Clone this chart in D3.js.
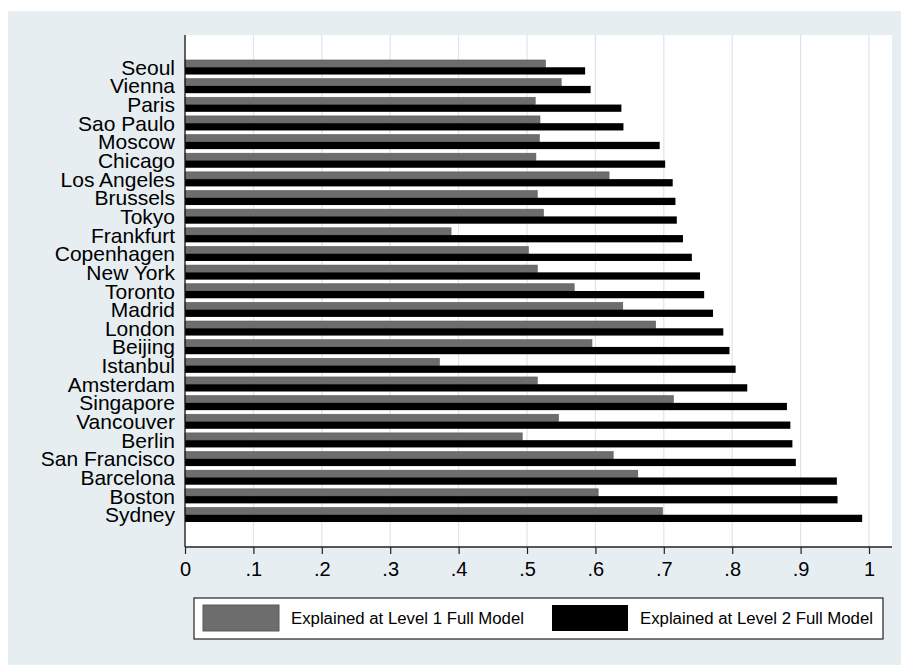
<!DOCTYPE html>
<html>
<head>
<meta charset="utf-8">
<script src="https://cdn.jsdelivr.net/npm/d3@7"></script>
<style>
  body { margin: 0; background: #fff; }
  svg { display: block; font-family: "Liberation Sans", Arial, Helvetica, sans-serif; }
  .city { font-size: 21px; fill: #000; }
  .tick text { font-size: 20px; fill: #000; font-family: "Liberation Sans", Arial, sans-serif; }
  .legend-text { font-size: 16px; fill: #000; }
</style>
</head>
<body>
<svg width="901" height="665"></svg>
<script>
// city order top to bottom
const cities = ["Seoul", "Vienna", "Paris", "Sao Paulo", "Moscow", "Chicago", "Los Angeles",
  "Brussels", "Tokyo", "Frankfurt", "Copenhagen", "New York", "Toronto", "Madrid", "London",
  "Beijing", "Istanbul", "Amsterdam", "Singapore", "Vancouver", "Berlin", "San Francisco",
  "Barcelona", "Boston", "Sydney"];

// share explained at level 1 (gray)
const level1 = [0.527, 0.550, 0.512, 0.519, 0.518, 0.513, 0.620,
  0.515, 0.524, 0.389, 0.502, 0.515, 0.569, 0.640, 0.688,
  0.595, 0.372, 0.515, 0.714, 0.546, 0.493, 0.626,
  0.662, 0.604, 0.698];

// share explained at level 2 (black)
const level2 = [0.585, 0.593, 0.638, 0.641, 0.694, 0.702, 0.713,
  0.717, 0.719, 0.728, 0.741, 0.753, 0.759, 0.772, 0.787,
  0.796, 0.805, 0.822, 0.880, 0.885, 0.888, 0.893,
  0.953, 0.954, 0.990];

const tickValues = [0, 0.1, 0.2, 0.3, 0.4, 0.5, 0.6, 0.7, 0.8, 0.9, 1];
const tickLabels = ["0", ".1", ".2", ".3", ".4", ".5", ".6", ".7", ".8", ".9", "1"];

const seriesNames = ["Explained at Level 1 Full Model", "Explained at Level 2 Full Model"];
const seriesColors = ["#6d6d6d", "#000000"];

const svg = d3.select("svg"),
  width = +svg.attr("width"),
  height = +svg.attr("height");

const plot = { left: 185, top: 35, right: 892, bottom: 547 };

// outer panel
svg.append("rect")
  .attr("x", 8).attr("y", 11)
  .attr("width", width - 8).attr("height", height - 11)
  .attr("fill", "#e7eef2");

// plot region
svg.append("rect")
  .attr("x", plot.left).attr("y", plot.top)
  .attr("width", plot.right - plot.left).attr("height", plot.bottom - plot.top)
  .attr("fill", "#fff");

const xScale = d3.scaleLinear().domain([0, 1]).range([185, 869]);

const yScale = d3.scaleBand()
  .domain(cities)
  .range([plot.top, plot.bottom])
  .paddingInner(0.22)
  .paddingOuter(1.34);

const sub = d3.scaleBand()
  .domain([0, 1])
  .range([0, yScale.bandwidth()]);

// gridlines
svg.append("g")
  .selectAll("line")
  .data(tickValues.slice(1))
  .join("line")
  .attr("x1", d => xScale(d)).attr("x2", d => xScale(d))
  .attr("y1", plot.top).attr("y2", plot.bottom)
  .attr("stroke", "#dbe5ec")
  .attr("stroke-width", 1.2);

const data = cities.map((c, i) => ({ city: c, vals: [level1[i], level2[i]] }));

const groups = svg.append("g")
  .selectAll("g")
  .data(data)
  .join("g")
  .attr("transform", d => `translate(0,${yScale(d.city)})`);

groups.selectAll("rect")
  .data(d => d.vals.map((v, k) => ({ k, v })))
  .join("rect")
  .attr("x", xScale(0))
  .attr("y", d => sub(d.k))
  .attr("width", d => xScale(d.v) - xScale(0))
  .attr("height", sub.bandwidth())
  .attr("fill", d => seriesColors[d.k])
  .attr("stroke", d => d.k === 0 ? "#5a5a5a" : "none")
  .attr("stroke-width", 0.6);

// city labels
svg.append("g")
  .selectAll("text")
  .data(cities)
  .join("text")
  .attr("class", "city")
  .attr("x", 175)
  .attr("y", d => yScale(d) + yScale.bandwidth() / 2)
  .attr("dy", "0.36em")
  .attr("text-anchor", "end")
  .text(d => d);

// y axis line
svg.append("line")
  .attr("x1", plot.left).attr("x2", plot.left)
  .attr("y1", plot.top).attr("y2", plot.bottom)
  .attr("stroke", "#111").attr("stroke-width", 1.3);

// x axis
const xAxis = d3.axisBottom(xScale)
  .tickValues(tickValues)
  .tickFormat((d, i) => tickLabels[i])
  .tickSize(7)
  .tickSizeOuter(0);

const gx = svg.append("g")
  .attr("transform", `translate(0,${plot.bottom})`)
  .call(xAxis);
gx.select(".domain").remove();
gx.selectAll(".tick line").attr("stroke", "#222").attr("stroke-width", 1.2);
gx.selectAll(".tick text").attr("y", 15).attr("dy", "0.71em");

svg.append("line")
  .attr("x1", plot.left).attr("x2", plot.right)
  .attr("y1", plot.bottom).attr("y2", plot.bottom)
  .attr("stroke", "#222").attr("stroke-width", 1.3);

// legend
const legend = svg.append("g");
legend.append("rect")
  .attr("x", 194).attr("y", 598)
  .attr("width", 689).attr("height", 41)
  .attr("fill", "#fff").attr("stroke", "#222").attr("stroke-width", 1.2);

const legendX = [203, 552];
seriesNames.forEach((name, i) => {
  legend.append("rect")
    .attr("x", legendX[i]).attr("y", 605)
    .attr("width", 76).attr("height", 26)
    .attr("fill", seriesColors[i])
    .attr("stroke", i === 0 ? "#5a5a5a" : "none");
  legend.append("text")
    .attr("class", "legend-text")
    .attr("x", legendX[i] + 88).attr("y", 624)
    .attr("textLength", 233)
    .attr("lengthAdjust", "spacingAndGlyphs")
    .text(name);
});
</script>
</body>
</html>
